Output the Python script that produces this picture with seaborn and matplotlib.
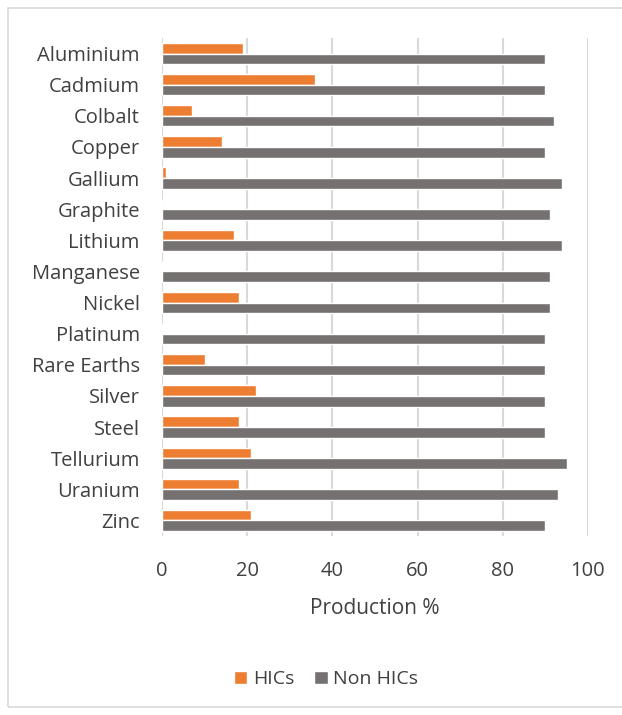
import seaborn as sns
import pandas as pd
import matplotlib.pyplot as plt
from matplotlib.patches import Rectangle

# Valeurs
minerals = ["Aluminium", "Cadmium", "Colbalt", "Copper", "Gallium", "Graphite",
            "Lithium", "Manganese", "Nickel", "Platinum", "Rare Earths", "Silver",
            "Steel", "Tellurium", "Uranium", "Zinc"]
hics = [19, 36, 7, 14, 1, 0, 17, 0, 18, 0, 10, 22, 18, 21, 18, 21]
non_hics = [90, 90, 92, 90, 94, 91, 94, 91, 91, 90, 90, 90, 90, 95, 93, 90]
groups = ["HICs", "Non HICs"]
colors = ["#ED7D31", "#767171"]

df = pd.DataFrame({
    "Mineral": minerals * 2,
    "Production": hics + non_hics,
    "Group": [groups[0]] * len(minerals) + [groups[1]] * len(minerals),
})

sns.set_style("white")
plt.rcParams["font.family"] = ["Open Sans", "DejaVu Sans"]

fig = plt.figure(figsize=(6.22, 7.15), dpi=100)
ax = fig.add_axes([0.2605, 0.2503, 0.6848, 0.6966])

sns.barplot(data=df, y="Mineral", x="Production", hue="Group", hue_order=groups,
            palette=colors, saturation=1, orient="h", width=0.68, ax=ax, legend=True)

ax.set_xlim(0, 100)
ax.set_xticks([0, 20, 40, 60, 80, 100])
ax.set_ylim(len(minerals) - 0.5, -0.5)
ax.grid(axis="x", color="#D9D9D9", linewidth=1.5)
ax.set_axisbelow(True)
for s in ax.spines.values():
    s.set_visible(False)
ax.tick_params(length=0, labelsize=14.5, labelcolor="#404040")
ax.tick_params(axis="x", pad=18)
ax.tick_params(axis="y", pad=16)
ax.set_ylabel("")
ax.set_xlabel("Production %", fontsize=15, color="#404040", labelpad=12)

ax.legend(loc="center", bbox_to_anchor=(0.385, -0.288), ncol=2, frameon=False,
          fontsize=14, handlelength=0.7, handleheight=0.7, columnspacing=1.0,
          handletextpad=0.3, labelcolor="#404040")

# cadre extérieur
fig.patches.append(Rectangle((8 / 622, 8 / 715), 1.0, 1 - 16 / 715,
                             transform=fig.transFigure, fill=False,
                             edgecolor="#D9D9D9", linewidth=1.2))

fig.savefig("out.png", dpi=100)
